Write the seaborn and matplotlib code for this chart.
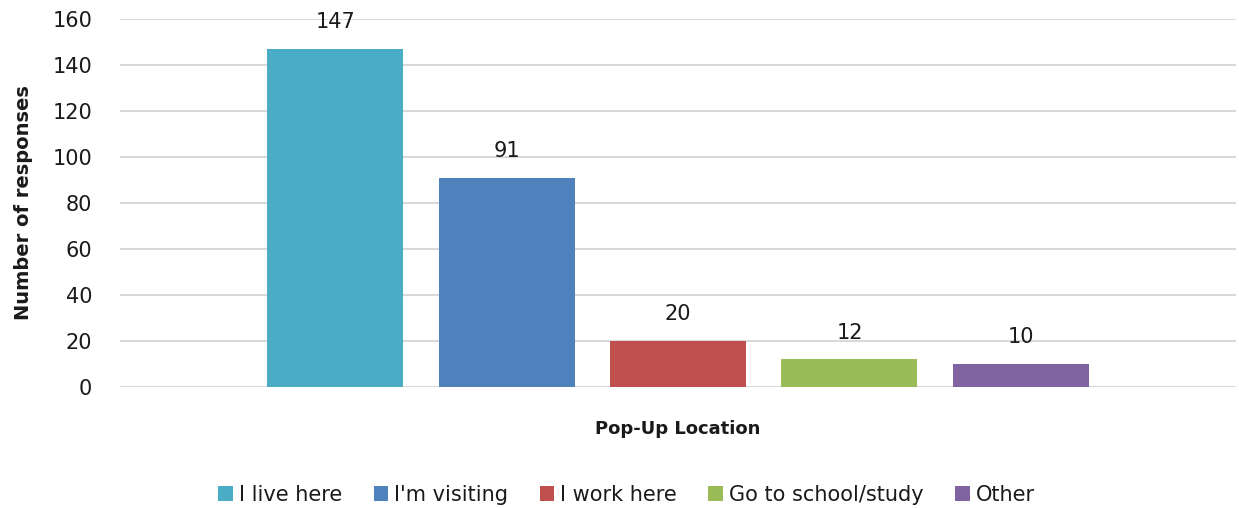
import matplotlib
matplotlib.use("Agg")
import matplotlib.pyplot as plt
import seaborn as sns
import pandas as pd

# ── Data ─────────────────────────────────────────────────────────────────────
CATEGORY  = "Pop-Up Location"
RESPONSES = ["I live here", "I'm visiting", "I work here", "Go to school/study", "Other"]
COUNTS    = [147, 91, 20, 12, 10]
COLORS    = ["#4BACC6", "#4F81BD", "#C0504D", "#9BBB59", "#8064A2"]

df = pd.DataFrame({"loc": [CATEGORY] * len(RESPONSES),
                   "resp": RESPONSES, "n": COUNTS})

sns.set_theme(style="white")
plt.rcParams["font.family"] = ["DejaVu Sans"]

fig = plt.figure(figsize=(12.39, 5.08), dpi=100)
ax = fig.add_axes([0.0969, 0.2382, 0.9007, 0.7244])

sns.barplot(data=df, x="loc", y="n", hue="resp", hue_order=RESPONSES,
            palette=COLORS, width=0.768, gap=0.207, saturation=1,
            linewidth=0, ax=ax, legend=True)

for c in ax.containers:
    ax.bar_label(c, padding=12, fontsize=15, color="#1a1a1a")

ax.set_ylim(0, 160)
ax.set_xlim(-0.5, 0.5)
ax.set_yticks(range(0, 161, 20))
ax.tick_params(axis="y", labelsize=15, length=0, pad=20, labelcolor="#1a1a1a")
ax.set_xticks([])
ax.yaxis.grid(True, color="#D9D9D9", linewidth=1.5)
ax.set_axisbelow(True)
for s in ax.spines.values():
    s.set_visible(False)

ax.set_ylabel("Number of responses", fontsize=14, fontweight="bold", labelpad=14,
              color="#1a1a1a")
ax.set_xlabel(CATEGORY, fontsize=13, fontweight="bold", labelpad=24, color="#1a1a1a")

ax.legend(loc="upper center", bbox_to_anchor=(0.454, -0.215), ncol=5, frameon=False,
          fontsize=15, handlelength=0.7, handleheight=0.7, handletextpad=0.3,
          columnspacing=1.5, labelcolor="#1a1a1a")

fig.savefig("out.png", dpi=100)
